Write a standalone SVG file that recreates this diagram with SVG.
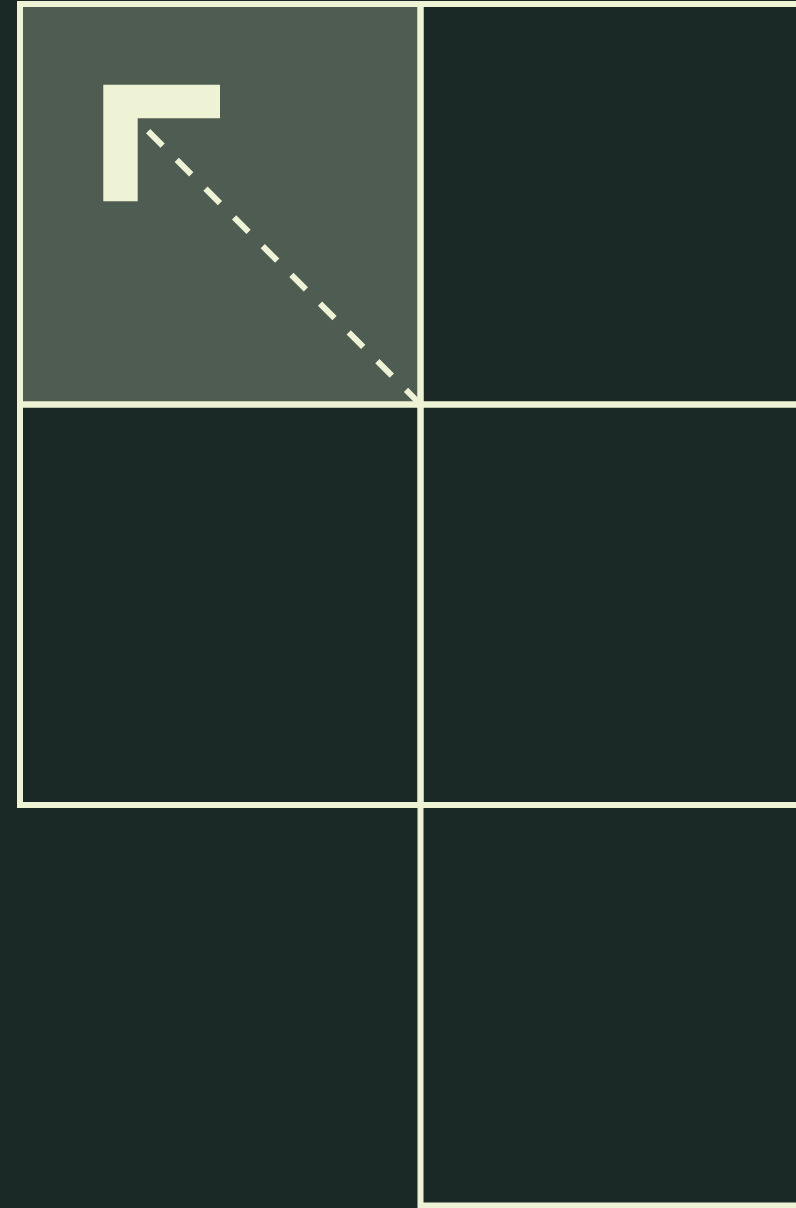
<svg xmlns="http://www.w3.org/2000/svg" width="796" height="1208" viewBox="0 0 796 1208">
  <style>
    .cell { fill: none; stroke: #eef3d6; stroke-width: 6; }
    .active { fill: #4f5c51; }
    .mark { fill: #eef3d6; }
    .conn { fill: none; stroke: #eef3d6; stroke-width: 6; stroke-dasharray: 20.5 20.1; }
  </style>
  <rect x="0" y="0" width="796" height="1208" fill="#1b2926"/>
  <g id="cell-0-0"><rect class="cell active" x="20" y="4" width="400.5" height="400.5"/></g>
  <g id="cell-0-1"><rect class="cell" x="20" y="404.5" width="400.5" height="400.5"/></g>
  <g id="cell-1-0"><rect class="cell" x="420.5" y="4" width="400.5" height="400.5"/></g>
  <g id="cell-1-1"><rect class="cell" x="420.5" y="404.5" width="400.5" height="400.5"/></g>
  <g id="cell-1-2"><rect class="cell" x="420.5" y="805" width="400.5" height="400.5"/></g>
  <g id="connectors">
    <line class="conn" x1="420.5" y1="404.5" x2="147" y2="130"/>
  </g>
  <g id="corner-mark">
    <polygon class="mark" points="103.3,84.7 220,84.7 220,118.3 137.7,118.3 137.7,201.3 103.3,201.3"/>
  </g>
</svg>
